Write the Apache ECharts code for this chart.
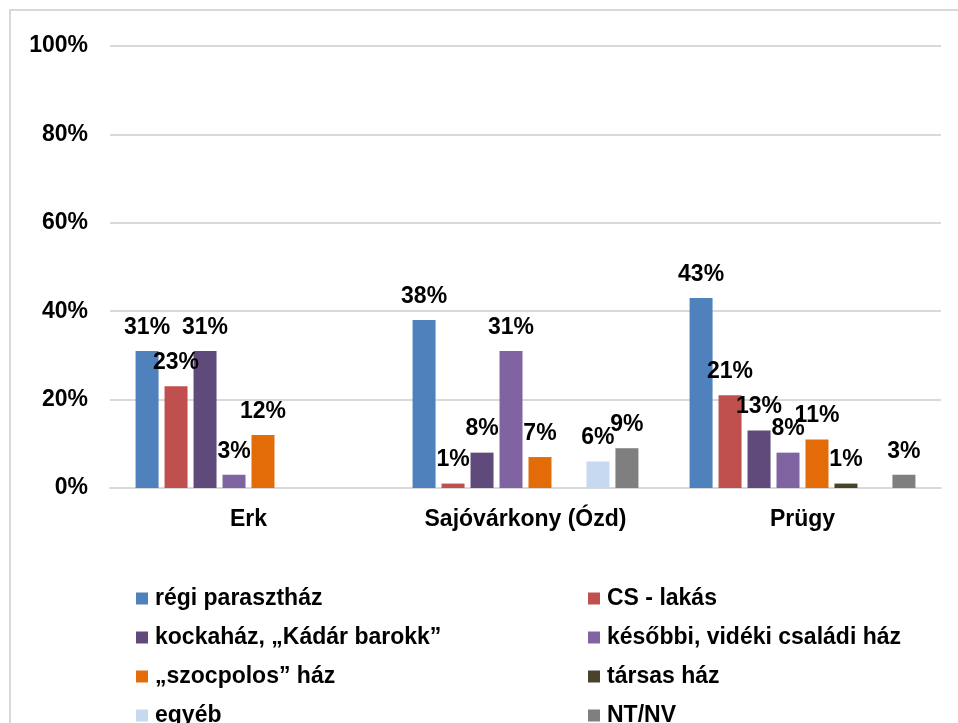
<!DOCTYPE html>
<html>
<head>
<meta charset="utf-8">
<script src="https://cdn.jsdelivr.net/npm/echarts@6/dist/echarts.min.js"></script>
<style>
	html, body { margin: 0; padding: 0; background: #fff; }
	#chart { width: 958px; height: 723px; }
</style>
</head>
<body>
<div id="chart"></div>
<script>
	// kategóriák és sorozatok (%)
	var categories = ['Erk', 'Sajóvárkony (Ózd)', 'Prügy'];
	var seriesNames = ['régi parasztház', 'CS - lakás', 'kockaház, \u201eKádár barokk\u201d', 'későbbi, vidéki családi ház',
		'\u201eszocpolos\u201d ház', 'társas ház', 'egyéb', 'NT/NV'];
	var regiParaszthaz = [31, 38, 43];
	var csLakas = [23, 1, 21];
	var kockahaz = [31, 8, 13];
	var kesobbi = [3, 31, 8];
	var szocpolos = [12, 7, 11];
	var tarsasHaz = [null, null, 1];
	var egyeb = [null, 6, null];
	var ntNv = [null, 9, 3];
	var yTicks = [0, 20, 40, 60, 80, 100];
	var colors = ['#4f81bd', '#c0504d', '#604a7b', '#8064a2', '#e36c09', '#494429', '#c6d9f1', '#7f7f7f'];

	var values = [regiParaszthaz, csLakas, kockahaz, kesobbi, szocpolos, tarsasHaz, egyeb, ntNv];
	var font = 'Liberation Sans, Arial, sans-serif';
	var txt = { color: '#000', fontFamily: font, fontWeight: 'bold', fontSize: 23 };

	var series = seriesNames.map(function(name, i) {
		return {
			name: name,
			type: 'bar',
			data: values[i],
			barWidth: 23,
			barGap: '26%',
			itemStyle: { color: colors[i] },
			label: Object.assign({
				show: true,
				position: 'top',
				distance: 12,
				formatter: '{c}%'
			}, txt)
		};
	});

	function legend(left, names) {
		return {
			orient: 'vertical',
			left: left,
			top: 587,
			height: 200,
			padding: 0,
			icon: 'rect',
			itemWidth: 12,
			itemHeight: 12,
			itemGap: 16,
			data: names,
			textStyle: Object.assign({ lineHeight: 22, padding: [0, 0, 0, 2] }, txt)
		};
	}

	var myChart = echarts.init(document.getElementById('chart'));
	myChart.setOption({
		animation: false,
		color: colors,
		graphic: [{
			type: 'rect',
			shape: { x: 10, y: 10, width: 1200, height: 1200 },
			style: { fill: 'none', stroke: '#d9d9d9', lineWidth: 2 }
		}],
		grid: { left: 110, right: 17, top: 46, bottom: 235 },
		legend: [
			legend(136, seriesNames.filter(function(n, i) { return i % 2 === 0; })),
			legend(588, seriesNames.filter(function(n, i) { return i % 2 === 1; }))
		],
		xAxis: {
			type: 'category',
			data: categories,
			axisTick: { show: false },
			axisLine: { lineStyle: { color: '#d9d9d9', width: 2 } },
			axisLabel: Object.assign({ margin: 20 }, txt)
		},
		yAxis: {
			type: 'value',
			min: yTicks[0],
			max: yTicks[yTicks.length - 1],
			interval: 20,
			axisLine: { show: false },
			axisTick: { show: false },
			splitLine: { lineStyle: { color: '#d9d9d9', width: 2 } },
			axisLabel: Object.assign({ margin: 22, formatter: '{value}%' }, txt)
		},
		series: series
	});
</script>
</body>
</html>
